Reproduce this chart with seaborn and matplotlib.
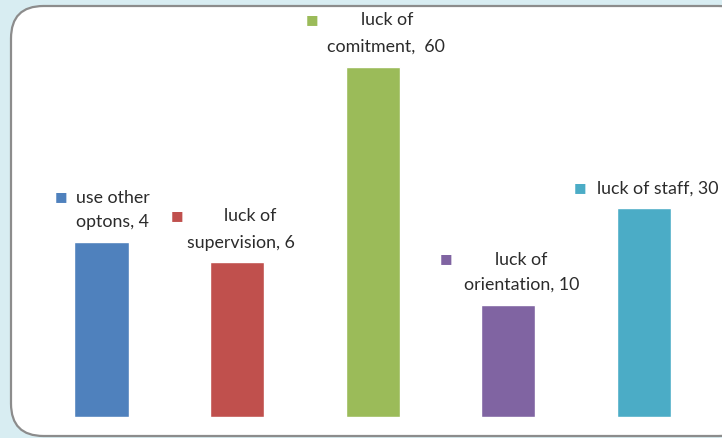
import matplotlib
matplotlib.use("Agg")
import matplotlib.pyplot as plt
from matplotlib.patches import FancyBboxPatch
import seaborn as sns
import pandas as pd

# reasons and the numbers written in their labels
reasons = ["use other optons", "luck of supervision", "luck of comitment",
           "luck of orientation", "luck of staff"]
label_numbers = [4, 6, 60, 10, 30]
# bar heights as drawn in the picture (not proportional to the labels)
bar_heights = [17.5, 15.5, 35.0, 11.2, 20.9]
bar_colors = ["#4f81bd", "#c0504d", "#9bbb59", "#8064a2", "#4bacc6"]

df = pd.DataFrame({"reason": reasons, "height": bar_heights})

sns.set_theme(style="white")
plt.rcParams["font.family"] = ["Lato", "DejaVu Sans"]

W, H = 722, 438
fig = plt.figure(figsize=(W / 100, H / 100), dpi=100)
fig.patch.set_facecolor("#d8edf2")

# white rounded panel
panel = FancyBboxPatch((11 / W, 2 / H), 740 / W, 430 / H,
                       boxstyle="round,pad=0,rounding_size=0.045",
                       transform=fig.transFigure, facecolor="white",
                       edgecolor="#8c8c8c", linewidth=1.6, mutation_aspect=W / H,
                       zorder=-5)
fig.patches.append(panel)

ax = fig.add_axes([33.7 / W, 21 / H, 678 / W, 407 / H])
ax.set_facecolor("none")
sns.barplot(data=df, x="reason", y="height", hue="reason", palette=bar_colors,
            width=0.4, legend=False, saturation=1, ax=ax)
ax.set_xlim(-0.5, 4.5)
ax.set_ylim(0, 40.7)
ax.axis("off")

txt = "#2b2b2b"
fs = 12.8
# (key offset, [(line, dx, dy, ha)]) in pixels from bar top centre
layouts = [
    ((-41, 45), [("use other", -25, 44, "left"), ("optons, {}", -25, 20, "left")]),
    ((-60, 46), [("luck of", 13, 46, "center"), ("supervision, {}", 4, 19, "center")]),
    ((-61, 47), [("luck of", 14, 47, "center"), ("comitment,  {}", 13, 20, "center")]),
    ((-62, 46), [("luck of", 13, 45, "center"), ("orientation, {}", 13, 20, "center")]),
    ((-64, 20), [("luck of staff, {}", -47, 19, "left")]),
]
for i, (key, lines) in enumerate(layouts):
    h = bar_heights[i]
    ax.annotate("■", (i, h), xytext=key, textcoords="offset pixels",
                ha="center", va="center", color=bar_colors[i], fontsize=9.5,
                family="DejaVu Sans", annotation_clip=False)
    for text, dx, dy, ha in lines:
        ax.annotate(text.format(label_numbers[i]), (i, h), xytext=(dx, dy),
                    textcoords="offset pixels", ha=ha, va="center",
                    color=txt, fontsize=fs, annotation_clip=False)

fig.savefig("out.png", dpi=100)
